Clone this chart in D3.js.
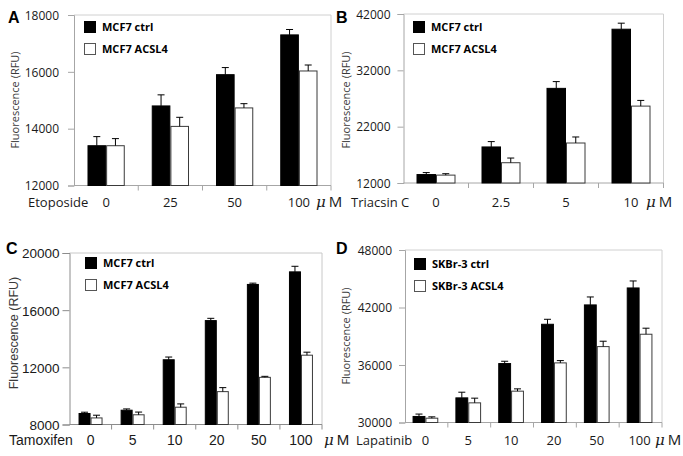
<!DOCTYPE html>
<html><head><meta charset="utf-8">
<script src="https://cdn.jsdelivr.net/npm/d3@7"></script>
<style>body{margin:0;background:#fff}svg{display:block}</style>
</head><body><svg id="c" width="683" height="456"></svg>
<script>
// ---- data ----
const catsA = ["0","25","50","100"];
const ctrlA = [13400, 14800, 15900, 17300];
const ctrlErrA = [320, 390, 250, 190];
const acslA = [13400, 14080, 14730, 16030];
const acslErrA = [250, 320, 150, 210];
const ticksA = [12000, 14000, 16000, 18000];

const catsB = ["0","2.5","5","10"];
const ctrlB = [13500, 18400, 28800, 39300];
const ctrlErrB = [350, 950, 1200, 1070];
const acslB = [13400, 15600, 19100, 25650];
const acslErrB = [250, 830, 1070, 1010];
const ticksB = [12000, 22000, 32000, 42000];

const catsC = ["0","5","10","20","50","100"];
const ctrlC = [8770, 9000, 12530, 15270, 17800, 18680];
const ctrlErrC = [90, 90, 190, 160, 90, 390];
const acslC = [8460, 8680, 9210, 10300, 11300, 12850];
const acslErrC = [190, 190, 230, 280, 70, 210];
const ticksC = [8000, 12000, 16000, 20000];

const catsD = ["0","5","10","20","50","100"];
const ctrlD = [30630, 32570, 36150, 40250, 42270, 44040];
const ctrlErrD = [250, 590, 240, 520, 830, 730];
const acslD = [30450, 32050, 33270, 36220, 37920, 39210];
const acslErrD = [140, 490, 240, 240, 560, 630];
const ticksD = [30000, 36000, 42000, 48000];

const drugs = ["Etoposide", "Triacsin C", "Tamoxifen", "Lapatinib"];
const letters = ["A", "B", "C", "D"];
const seriesNamesMCF7 = ["MCF7 ctrl", "MCF7 ACSL4"];
const seriesNamesSK = ["SKBr-3 ctrl", "SKBr-3 ACSL4"];
const yTitle = "Fluorescence (RFU)";
const unit = "M";

const svg = d3.select("#c");
const CAL = "'Open Sans', Lato, sans-serif";
const ARI = "'Liberation Sans', Arial, sans-serif";

function panel(o) {
  const g = svg.append("g");
  const x0 = d3.scaleBand().domain(o.cats).range([o.x0, o.x1]);
  const y = d3.scaleLinear().domain([o.ticks[0], o.ticks[o.ticks.length-1]]).range([o.yb, o.yt]);
  const bw = x0.bandwidth() * o.bwr;
  // border top & right
  g.append("path").attr("d", `M${o.x0},${o.yt}H${o.x1}V${o.yb}`).attr("fill","none")
    .attr("stroke", o.borderCol).attr("stroke-width",1);
  // y axis
  const ya = d3.axisLeft(y).tickValues(o.ticks).tickSize(o.tickLen).tickPadding(o.tickPad).tickFormat(d3.format("d"));
  const yg = g.append("g").attr("transform", `translate(${o.x0},0)`).call(ya);
  yg.select(".domain").attr("stroke", o.axisCol);
  yg.selectAll(".tick line").attr("stroke", o.axisCol);
  yg.selectAll("text").attr("font-family", o.font).attr("font-size", o.tickFs).attr("fill", "#1a1a1a").attr("dy", "0.36em");
  // x axis (ticks at band boundaries)
  const bounds = o.cats.map((c) => x0(c)).concat([o.x1]);
  g.append("line").attr("x1", o.x0).attr("x2", o.x1).attr("y1", o.yb).attr("y2", o.yb).attr("stroke", o.axisCol);
  g.selectAll(".xt").data(bounds.slice(1)).join("line").attr("x1", d => d).attr("x2", d => d)
    .attr("y1", o.yb).attr("y2", o.yb + 5).attr("stroke", o.axisCol);
  // bars
  const series = [
    {v: o.ctrl, e: o.ctrlErr, fill: "#000", stroke: "#000", off: -bw},
    {v: o.acsl, e: o.acslErr, fill: "#fff", stroke: "#3a3a3a", off: 0}
  ];
  series.forEach(s => {
    o.cats.forEach((c, i) => {
      const cx = x0(c) + x0.bandwidth()/2 + o.shift;
      const bx = cx + s.off;
      g.append("rect").attr("x", bx + 0.5).attr("y", y(s.v[i])).attr("width", bw - 1)
        .attr("height", y.range()[0] - y(s.v[i])).attr("fill", s.fill).attr("stroke", s.stroke).attr("stroke-width", 1);
      const ex = bx + bw/2;
      const et = y(s.v[i] + s.e[i]);
      g.append("line").attr("x1", ex).attr("x2", ex).attr("y1", y(s.v[i])).attr("y2", et).attr("stroke", "#000");
      g.append("line").attr("x1", ex - 3.5).attr("x2", ex + 3.5).attr("y1", et).attr("y2", et).attr("stroke", "#000");
    });
  });
  // category labels
  g.selectAll(".cl").data(o.cats).join("text").attr("x", d => x0(d) + x0.bandwidth()/2 + o.shift)
    .attr("y", o.labY).attr("text-anchor", "middle").attr("font-family", o.font).attr("font-size", o.catFs)
    .attr("fill", "#1a1a1a").text(d => d);
  // drug name
  g.append("text").attr("x", o.drugX).attr("y", o.labY).attr("font-family", o.font).attr("font-size", o.catFs)
    .attr("fill", "#1a1a1a").text(o.drug);
  // μM
  const um = g.append("text").attr("x", o.umX).attr("y", o.labY).attr("fill", "#1a1a1a");
  um.append("tspan").attr("font-family", "'DejaVu Serif', serif").attr("font-style", "italic").attr("font-size", 15).text("μ");
  um.append("tspan").attr("dx", 3).attr("font-family", o.font).attr("font-size", 15).text(unit);
  // y title
  g.append("text").attr("transform", `translate(${o.ytX},${o.ytY}) rotate(-90)`).attr("text-anchor", "middle")
    .attr("font-family", o.font).attr("font-size", o.ytFs).attr("fill", "#3a3a3a").text(yTitle);
  // panel letter
  g.append("text").attr("x", o.letX).attr("y", o.letY).attr("font-family", ARI).attr("font-weight", "bold")
    .attr("font-size", 16).attr("fill", "#000").text(o.letter);
  // legend
  o.names.forEach((n, i) => {
    const ly = o.legY + i * 22;
    g.append("rect").attr("x", o.legX + 0.5).attr("y", ly + 0.5).attr("width", 11).attr("height", 11)
      .attr("fill", i === 0 ? "#000" : "#fff").attr("stroke", i === 0 ? "#000" : "#555");
    g.append("text").attr("x", o.legX + 18).attr("y", ly + 10).attr("font-family", CAL).attr("font-weight", "bold")
      .attr("font-size", 11).attr("fill", "#000").text(n);
  });
}

const calStyle = {font: CAL, tickFs: 12, catFs: 13, ytFs: 11, axisCol: "#a6a6a6", borderCol: "#d0d0d0", tickLen: 6, bwr: 0.29};

panel(Object.assign({}, calStyle, {
  cats: catsA, ctrl: ctrlA, ctrlErr: ctrlErrA, acsl: acslA, acslErr: acslErrA, ticks: ticksA,
  x0: 74, x1: 331, yt: 15, yb: 185.5, tickPad: 9, shift: 0, labY: 207, drug: drugs[0], drugX: 28, umX: 316,
  ytX: 19, ytY: 100, letter: letters[0], letX: 8, letY: 23, names: seriesNamesMCF7, legX: 84, legY: 21
}));
panel(Object.assign({}, calStyle, {
  cats: catsB, ctrl: ctrlB, ctrlErr: ctrlErrB, acsl: acslB, acslErr: acslErrB, ticks: ticksB,
  x0: 403.5, x1: 663.5, yt: 14, yb: 183, tickPad: 7, shift: 0, labY: 207, drug: drugs[1], drugX: 351, umX: 646,
  ytX: 350, ytY: 100, letter: letters[1], letX: 336, letY: 23, names: seriesNamesMCF7, legX: 413, legY: 21, bwr: 0.3
}));
panel({
  font: ARI, tickFs: 13.5, catFs: 14, ytFs: 12.5, axisCol: "#8c8c8c", borderCol: "#c8c8c8", tickLen: 7, bwr: 0.285,
  cats: catsC, ctrl: ctrlC, ctrlErr: ctrlErrC, acsl: acslC, acslErr: acslErrC, ticks: ticksC,
  x0: 69.5, x1: 322, yt: 253, yb: 424.5, tickPad: 3, shift: 0, labY: 445, drug: drugs[2], drugX: 9, umX: 324,
  ytX: 18, ytY: 333, letter: letters[2], letX: 6, letY: 254, names: seriesNamesMCF7, legX: 85, legY: 257
});
panel(Object.assign({}, calStyle, {
  cats: catsD, ctrl: ctrlD, ctrlErr: ctrlErrD, acsl: acslD, acslErr: acslErrD, ticks: ticksD,
  x0: 405, x1: 662, yt: 250, yb: 422.5, tickPad: 7, shift: -1, labY: 445, drug: drugs[3], drugX: 356, umX: 655,
  ytX: 350, ytY: 336, letter: letters[3], letX: 336, letY: 254, names: seriesNamesSK, legX: 414, legY: 258, bwr: 0.3
}));
</script></body></html>
